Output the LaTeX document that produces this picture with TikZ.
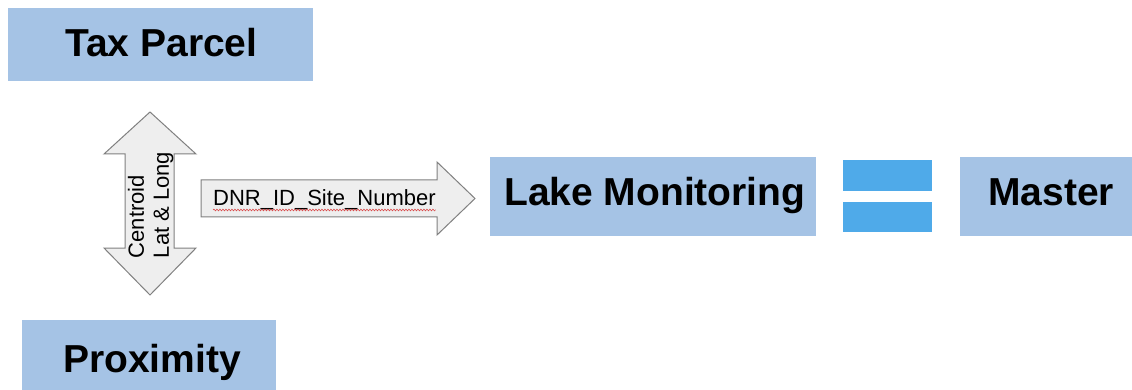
\documentclass[tikz,border=0pt]{standalone}
\usepackage{fontspec}
\setmainfont{Liberation Sans}
\usetikzlibrary{decorations.pathmorphing}

\definecolor{boxblue}{RGB}{165,195,229}
\definecolor{barblue}{RGB}{79,170,233}
\definecolor{arrowfill}{RGB}{238,238,238}
\definecolor{arrowline}{RGB}{128,128,128}
\definecolor{spellred}{RGB}{215,60,60}

\tikzset{
  box/.style={fill=boxblue, draw=none, inner sep=0pt},
  title/.style={font=\fontsize{39}{44}\selectfont\bfseries, inner sep=0pt, text=black},
  blockarrow/.style={fill=arrowfill, draw=arrowline, line width=1pt, line join=miter},
  bar/.style={fill=barblue, draw=none},
  small/.style={font=\fontsize{22}{25}\selectfont, inner sep=0pt, text=black},
}

\begin{document}
\begin{tikzpicture}[x=1pt, y=-1pt]
  % canvas
  \path[use as bounding box, fill=white] (0,0) rectangle (1132,390);

  % blue boxes
  \node[box, minimum width=305pt, minimum height=73pt] (tax)    at (160.5,44.5) {};
  \node[box, minimum width=254pt, minimum height=70pt] (prox)   at (149,355)    {};
  \node[box, minimum width=326pt, minimum height=79pt] (lake)   at (652.5,196.5) {};
  \node[box, minimum width=172pt, minimum height=79pt] (master) at (1046,196.5) {};

  % box titles, placed on their baselines
  \node[title, anchor=base west] (taxtext)    at (65,57)   {Tax Parcel};
  \node[title, anchor=base west] (proxtext)   at (63,372)  {Proximity};
  \node[title, anchor=base west] (laketext)   at (504,205) {Lake Monitoring};
  \node[title, anchor=base west] (mastertext) at (988,205) {Master};

  % equals sign
  \fill[bar] (843,160) rectangle (932,191);
  \fill[bar] (843,202) rectangle (932,232);

  % vertical double block arrow
  \draw[blockarrow]
    (150,112) -- (196,154) -- (174,154) -- (174,248) -- (196,248)
    -- (150,295) -- (104,248) -- (125,248) -- (125,154) -- (104,154) -- cycle;
  \node[small, rotate=90, align=left] (centroid) at (150.8,205)
    {Centroid\\Lat \& Long};

  % horizontal block arrow
  \draw[blockarrow]
    (201,180) -- (437,180) -- (437,162) -- (475,198.5) -- (437,235)
    -- (437,217) -- (201,217) -- cycle;
  \node[small, anchor=base west] (dnr) at (213,206) {DNR\_ID\_Site\_Number};
  \draw[spellred, line width=0.5pt,
        decorate, decoration={snake, amplitude=0.9pt, segment length=3pt}]
    ([yshift=-4pt]dnr.base west) -- ([yshift=-4pt]dnr.base east);
\end{tikzpicture}
\end{document}
